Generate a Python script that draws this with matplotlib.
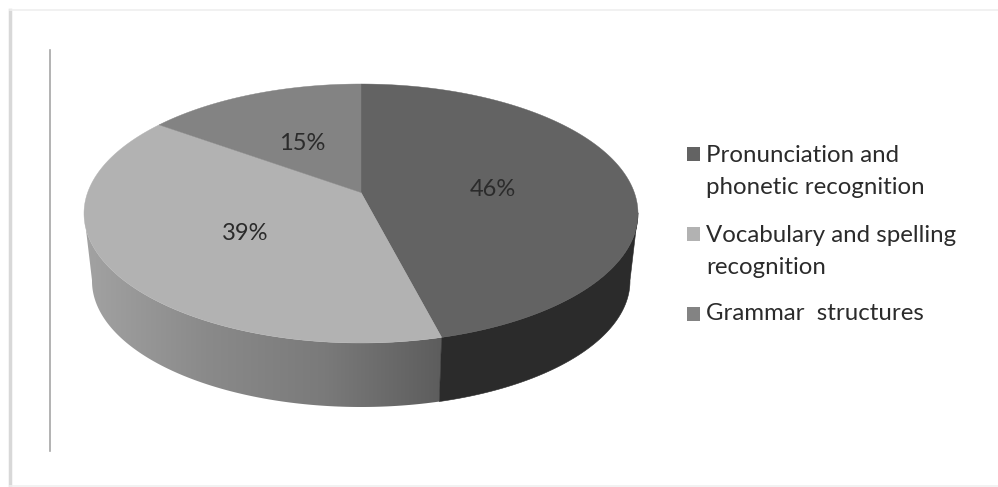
import numpy as np
import matplotlib

matplotlib.use("Agg")
import matplotlib.pyplot as plt
from matplotlib.colors import LinearSegmentedColormap
from matplotlib.patches import Polygon, Rectangle

plt.rcParams["font.family"] = ["Lato", "DejaVu Sans"]

# Chart data
categories = [
    ["Pronunciation and", "phonetic recognition"],
    ["Vocabulary and spelling", "recognition"],
    ["Grammar  structures"],
]
shares = [46, 39, 15]
top_colors = ["#636363", "#b2b2b2", "#838383"]
label_positions = [(493, 189), (245, 233), (302, 144)]
legend_rows = [(154, [156, 188]), (234, [235, 267]), (314, [314])]

TEXT_COLOR = "#2b2b2b"


def make_rim(cx, cy, rx, ry, k):
    """Return a function mapping clockwise-from-top degrees to a tilted circle's rim."""
    c = k * ry
    a = rx * (ry - k * c) / np.sqrt(ry**2 - c**2)

    def rim(deg):
        t = np.radians(deg)
        u, v = np.sin(t), np.cos(t)
        w = 1 + k * v
        return cx + a * u / w, cy - (ry * v + c) / w

    return rim


def wall_polygon(top_rim, bottom_rim, start, stop):
    deg = np.linspace(start, stop, 120)
    xt, yt = top_rim(deg)
    xb, yb = bottom_rim(deg)
    return np.column_stack([np.r_[xt, xb[::-1]], np.r_[yt, yb[::-1]]])


fig = plt.figure(figsize=(9.98, 4.87), dpi=100, facecolor="white")
ax = fig.add_axes([0, 0, 1, 1])

top_rim = make_rim(361, 213.5, 277, 129.5, 0.162)
bottom_rim = make_rim(361, 281, 269, 126, 0.162)
apex = top_rim(np.array([0.0]))[0][0], 213.5 - 0.162 * 129.5

# slice boundaries, clockwise from twelve o'clock
edges = np.cumsum([0] + shares) / sum(shares) * 360

# side wall: shaded gradient under the second slice, dark under the first
left_wall = Polygon(
    wall_polygon(top_rim, bottom_rim, edges[1], 261), fc="none", ec="none"
)
ax.add_patch(left_wall)
wall_cmap = LinearSegmentedColormap.from_list(
    "wall", ["#a2a2a2", "#8a8a8a", "#7a7a7a", "#5c5c5c"]
)
shade = ax.imshow(
    np.linspace(0, 1, 256).reshape(1, -1),
    extent=(85, 446, 410, 225),
    cmap=wall_cmap,
    aspect="auto",
    interpolation="bilinear",
)
shade.set_clip_path(left_wall)
ax.add_patch(
    Polygon(wall_polygon(top_rim, bottom_rim, 99, edges[1]), fc="#2b2b2b", ec="#2b2b2b", lw=0.4)
)

# top faces
for start, stop, color in zip(edges[:-1], edges[1:], top_colors):
    deg = np.linspace(start, stop, 160)
    x, y = top_rim(deg)
    ax.fill(np.r_[apex[0], x], np.r_[apex[1], y], fc=color, ec=color, lw=0.3)

for value, (x, y) in zip(shares, label_positions):
    ax.text(x, y, f"{value}%", ha="center", va="center", fontsize=17, color=TEXT_COLOR)

# legend
for lines, color, (marker_y, line_ys) in zip(categories, top_colors, legend_rows):
    ax.add_patch(Rectangle((687, marker_y - 7), 13, 14, fc=color, ec="none"))
    for line, y in zip(lines, line_ys):
        ax.text(706, y, line, ha="left", va="center", fontsize=17.3, color=TEXT_COLOR)

# page frame and the thin vertical rule
ax.plot([50, 50], [50, 451], color="#a6a6a6", lw=1.2)
ax.plot([10.5, 10.5], [10, 487], color="#d8d8d8", lw=2.5)
ax.plot([10, 998], [9.5, 9.5], color="#efefef", lw=1.2)
ax.plot([10, 998], [486, 486], color="#f0f0f0", lw=1.2)

ax.set_xlim(0, 998)
ax.set_ylim(487, 0)
ax.axis("off")

fig.savefig("out.png", dpi=100)
